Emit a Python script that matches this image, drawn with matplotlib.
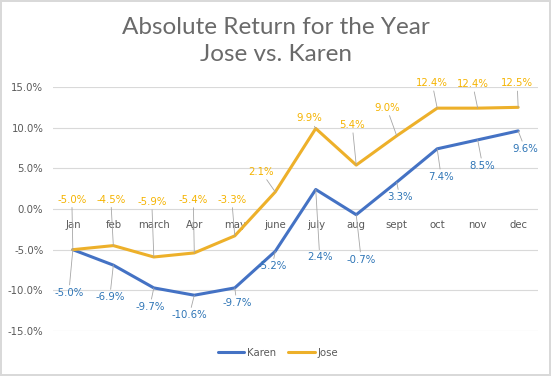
import matplotlib
matplotlib.use("Agg")
import matplotlib.pyplot as plt
from matplotlib.ticker import FuncFormatter

# Dados
meses = ["Jan", "feb", "march", "Apr", "may", "june", "july", "aug", "sept", "oct", "nov", "dec"]
karen = [-5.0, -6.9, -9.7, -10.6, -9.7, -5.2, 2.4, -0.7, 3.3, 7.4, 8.5, 9.6]
jose = [-5.0, -4.5, -5.9, -5.4, -3.3, 2.1, 9.9, 5.4, 9.0, 12.4, 12.4, 12.5]

# Deslocamento dos rótulos (pixels) em relação ao ponto da linha
desloc_jose = [(-1, 50), (-2.5, 46), (-2, 55), (-1, 53), (-3, 36), (-14, 20),
               (-6, 10), (-4, 40), (-10, 28), (-5, 25), (-5, 24), (-1, 24)]
desloc_karen = [(-4, -43), (-3.5, -32), (-4, -19), (-5, -20), (2, -15), (-3, -15),
                (4, -68), (5, -45), (3, -15), (4, -28), (5, -26), (7, -18)]

cor_karen = "#4472C4"
cor_jose = "#EDB02A"
cor_rot_karen = "#2E75B6"
cor_rot_jose = "#F5B300"
cinza = "#595959"

fig = plt.figure(figsize=(5.51, 3.76), dpi=100)
fig.patch.set_edgecolor("#D9D9D9")
fig.patch.set_linewidth(1.5)
ax = fig.add_axes([53 / 551, 1 - 331 / 376, 485 / 551, 244 / 376])

x = list(range(len(meses)))
ax.plot(x, karen, color=cor_karen, lw=2.2, label="Karen", solid_capstyle="round", zorder=3)
ax.plot(x, jose, color=cor_jose, lw=2.2, label="Jose", solid_capstyle="round", zorder=3)

ax.set_xlim(-0.49, 11.49)
ax.set_ylim(-15, 15)
ax.set_yticks([-15, -10, -5, 0, 5, 10, 15])
ax.yaxis.set_major_formatter(FuncFormatter(lambda v, p: f"{v:.1f}%"))
ax.grid(axis="y", color="#D9D9D9", lw=0.8)
ax.set_axisbelow(True)
for s in ax.spines.values():
    s.set_visible(False)
ax.tick_params(axis="y", length=0, pad=7, labelsize=7.3, labelcolor=cinza)

ax.set_xticks(x)
ax.set_xticklabels(meses)
ax.spines["bottom"].set_position(("data", 0))
ax.tick_params(axis="x", length=0, pad=8, labelsize=7.3, labelcolor=cinza)

def rotular(valores, deslocs, cor):
    for i, (v, d) in enumerate(zip(valores, deslocs)):
        ax.annotate(f"{v:.1f}%", xy=(i, v), xytext=(d[0] * 0.72, d[1] * 0.72),
                    textcoords="offset points", ha="center", va="center",
                    fontsize=7.3, color=cor, zorder=4,
                    arrowprops=dict(arrowstyle="-", color="#A6A6A6", lw=0.6,
                                    shrinkA=0, shrinkB=0))

rotular(jose, desloc_jose, cor_rot_jose)
rotular(karen, desloc_karen, cor_rot_karen)

fig.text(0.5, 1 - 41 / 376, "Absolute Return for the Year\nJose vs. Karen", ha="center", va="center",
         fontsize=17.5, color="#6A6A6A", family=["Lato", "DejaVu Sans"], fontweight="normal",
         linespacing=1.38)

fig.legend(loc="center", bbox_to_anchor=(278 / 551, 1 - 353 / 376), ncol=2, frameon=False,
           fontsize=7.3, handlelength=2.6, handletextpad=0.3, columnspacing=1.2,
           labelcolor=cinza)

fig.savefig("out.png", dpi=100)
